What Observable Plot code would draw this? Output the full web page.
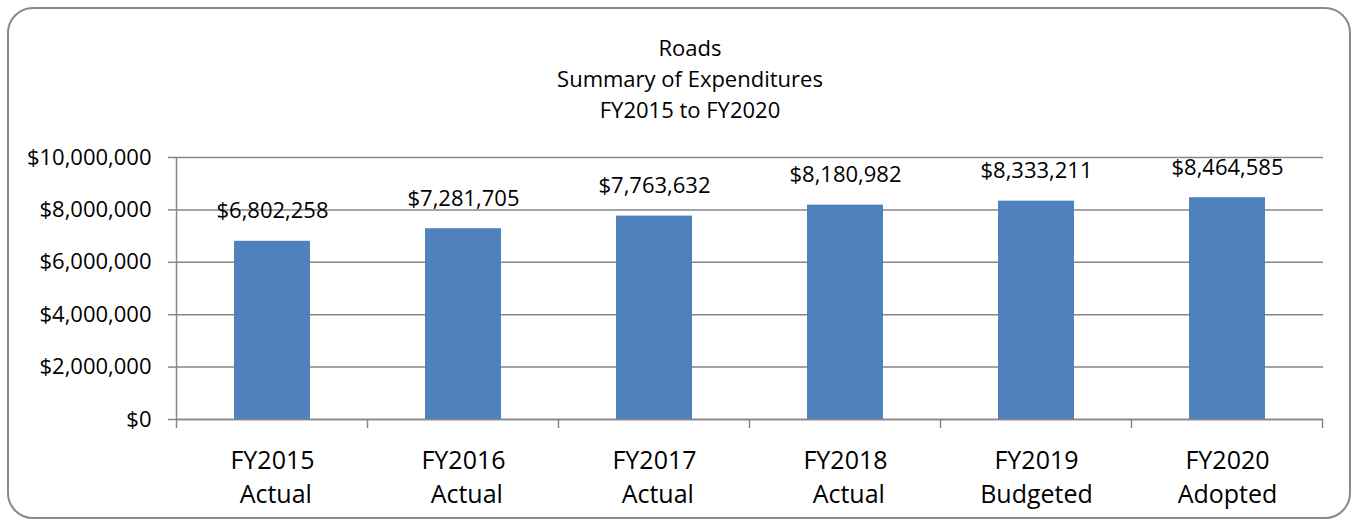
<!DOCTYPE html>
<html><head><meta charset="utf-8">
<script src="https://cdn.jsdelivr.net/npm/d3@7"></script>
<script src="https://cdn.jsdelivr.net/npm/@observablehq/plot@0.6"></script>
<style>
body{margin:0;background:#fff;}
#wrap{position:relative;width:1353px;height:519px;overflow:hidden;font-family:"Open Sans",sans-serif;}
#frame{position:absolute;left:7px;top:7px;width:1344px;height:512px;border:2px solid #8a8a8a;border-radius:26px;box-sizing:border-box;}
#title{position:absolute;left:440px;width:500px;top:32px;text-align:center;font-size:22px;line-height:31px;color:#000;}
#chart{position:absolute;left:0;top:0;}
</style></head>
<body>
<div id="wrap">
  <div id="frame"></div>
  <div id="title"></div>
  <div id="chart"></div>
</div>
<script>
const titleLines = ["Roads", "Summary of Expenditures", "FY2015 to FY2020"];
const categories = ["FY2015\n\u00a0Actual", "FY2016\n\u00a0Actual", "FY2017\n\u00a0Actual", "FY2018\n\u00a0Actual", "FY2019\nBudgeted", "FY2020\nAdopted"];
const values = [6802258, 7281705, 7763632, 8180982, 8333211, 8464585];
const yTicks = [0, 2000000, 4000000, 6000000, 8000000, 10000000];

document.getElementById("title").innerHTML = titleLines.join("<br>");

const data = categories.map((c, i) => ({cat: c, value: values[i]}));
const fmt = d3.format("$,");
const gridColor = "#868686";

const plot = Plot.plot({
  width: 1353, height: 519,
  marginLeft: 177, marginRight: 30, marginTop: 157, marginBottom: 100,
  style: {fontFamily: "'Open Sans', sans-serif", background: "transparent", color: "#000"},
  x: {domain: categories, paddingInner: 0.6, paddingOuter: 0.3, label: null},
  y: {domain: [0, 10000000], label: null},
  marks: [
    Plot.gridY(yTicks, {stroke: gridColor, strokeOpacity: 1, strokeWidth: 1.5}),
    Plot.axisY(yTicks, {tickSize: 9, tickPadding: 17, tickFormat: fmt, fontSize: 22, stroke: gridColor, strokeWidth: 1.5, label: null}),
    Plot.barY(data, {x: "cat", y: "value", fill: "#4F81BD"}),
    Plot.ruleY([0], {stroke: gridColor, strokeWidth: 1.5}),
    Plot.text(data, {x: "cat", y: "value", text: d => fmt(d.value), dy: -30, fontSize: 22, lineAnchor: "middle", fill: "#000"}),
    Plot.axisX({tickSize: 0, tickPadding: 25, fontSize: 25, lineHeight: 1.36, lineAnchor: "top", label: null})
  ]
});

// category boundary ticks and left axis line, positioned from the band scale
const xs = plot.scale("x"), ys = plot.scale("y");
const half = (xs.step - xs.bandwidth) / 2;
const bounds = categories.map(c => xs.apply(c) - half);
bounds.push(xs.apply(categories[categories.length - 1]) + xs.bandwidth + half);
const y0 = ys.apply(0), yTop = ys.apply(10000000);
const svg = d3.select(plot);
svg.append("g").selectAll("line").data(bounds).join("line")
  .attr("x1", d => d).attr("x2", d => d)
  .attr("y1", (d, i) => i === 0 ? yTop : y0)
  .attr("y2", y0 + 9)
  .attr("stroke", gridColor).attr("stroke-width", 1.5);

document.getElementById("chart").appendChild(plot);
</script>
</body></html>
